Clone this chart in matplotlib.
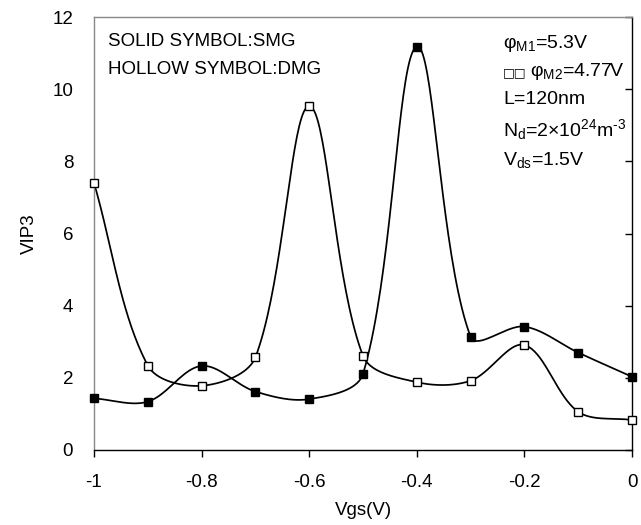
import numpy as np
import matplotlib
matplotlib.use("Agg")
import matplotlib.pyplot as plt

plt.rcParams['font.family'] = ['Liberation Sans', 'DejaVu Sans']
plt.rcParams['mathtext.fontset'] = 'custom'
plt.rcParams['mathtext.rm'] = 'Liberation Sans'
plt.rcParams['mathtext.it'] = 'Liberation Sans:italic'

# gate voltage and VIP3 for the two gate structures
vgs = [-1.0, -0.9, -0.8, -0.7, -0.6, -0.5, -0.4, -0.3, -0.2, -0.1, 0.0]
vip3_smg = [1.43, 1.34, 2.33, 1.62, 1.41, 2.11, 11.18, 3.14, 3.42, 2.70, 2.03]
vip3_dmg = [7.40, 2.34, 1.78, 2.57, 9.53, 2.61, 1.88, 1.92, 2.91, 1.06, 0.83]

xticks = [-1, -0.8, -0.6, -0.4, -0.2, 0]
xticklabels = ['-1', '-0.8', '-0.6', '-0.4', '-0.2', '0']
yticks = [0, 2, 4, 6, 8, 10, 12]

W, H = 641, 525
AX_W, AX_H = 538, 433


def smooth(x, y, n=40):
    """Bezier smoothing through every point; handle lengths follow the
    neighbouring chord lengths (measured on screen) to limit overshoot."""
    sx, sy = AX_W / 1.0, AX_H / 12.0
    pts = np.column_stack([np.asarray(x, float) * sx, np.asarray(y, float) * sy])
    m = len(pts)
    t = np.linspace(0, 1, n)
    out = []

    def handle(i, j):
        # control offset at point i heading toward neighbour j
        a = pts[max(i - 1, 0)]
        b = pts[min(i + 1, m - 1)]
        d = b - a
        l_prev = np.hypot(*(pts[i] - a))
        l_next = np.hypot(*(b - pts[i]))
        tot = l_prev + l_next
        if tot == 0:
            return np.zeros(2)
        frac = (l_next if j > i else l_prev) / tot
        return d * frac / 3.0

    for i in range(m - 1):
        p1, p2 = pts[i], pts[i + 1]
        c1 = p1 + handle(i, i + 1)
        c2 = p2 - handle(i + 1, i)
        seg = ((1 - t)**3)[:, None] * p1 + (3 * (1 - t)**2 * t)[:, None] * c1 \
            + (3 * (1 - t) * t**2)[:, None] * c2 + (t**3)[:, None] * p2
        out.append(seg if i == 0 else seg[1:])
    s = np.vstack(out)
    return s[:, 0] / sx, s[:, 1] / sy


fig = plt.figure(figsize=(W / 100, H / 100), dpi=100)
ax = fig.add_axes([94 / W, 75 / H, AX_W / W, AX_H / H])

for yv, face in [(vip3_smg, 'black'), (vip3_dmg, 'white')]:
    cx, cy = smooth(vgs, yv)
    ax.plot(cx, cy, color='black', lw=1.25, clip_on=False, zorder=2)
    ax.plot(vgs, yv, ls='none', marker='s', ms=6.2, mfc=face, mec='black',
            mew=1.0, clip_on=False, zorder=3)

ax.set_xlim(-1, 0)
ax.set_ylim(0, 12)
ax.set_xticks(xticks)
ax.set_xticklabels(xticklabels)
ax.set_yticks(yticks)
ax.tick_params(axis='x', direction='out', length=5, width=1, labelsize=13.5, pad=12)
ax.tick_params(axis='y', left=False, right=True, direction='in', length=5,
               width=1, labelsize=13.5, pad=15)
ax.tick_params(axis='y', labelleft=True, labelright=False)

ax.spines['left'].set_color('#888888')
ax.spines['top'].set_color('#888888')
ax.spines['right'].set_color('black')
ax.spines['bottom'].set_color('black')
for sp in ax.spines.values():
    sp.set_linewidth(1.0)

ax.set_xlabel('Vgs(V)', fontsize=13.5, labelpad=8)
ax.set_ylabel('VIP3', fontsize=13.5, labelpad=10)

fig.text(108 / W, 1 - 42 / H, 'SOLID SYMBOL:SMG', fontsize=13.5, va='center')
fig.text(108 / W, 1 - 70 / H, 'HOLLOW SYMBOL:DMG', fontsize=13.5, va='center')

# device parameters, positions in pixels from the top-left corner
hyphen = '\u2010'
notes = [
    (503, 43, r'φ$_{\mathrm{M1}}$=5.3V'),
    (530, 72, r'φ$_{\mathrm{M2}}$=4.77V'),
    (503, 100, 'L=120nm'),
    (503, 130, r'N$_{\mathrm{d}}$=2×10$^{\mathrm{24}}$m$^{\mathrm{' + hyphen + '3}}$'),
    (503, 160, r'V$_{\mathrm{ds}}$=1.5V'),
]
for px, py, s in notes:
    fig.text(px / W, 1 - py / H, s, fontsize=14, va='center')
fig.text(503 / W, 1 - 73 / H, '□□', fontsize=9, va='center',
         family=['DejaVu Sans'])

fig.savefig('out.png', dpi=100)
